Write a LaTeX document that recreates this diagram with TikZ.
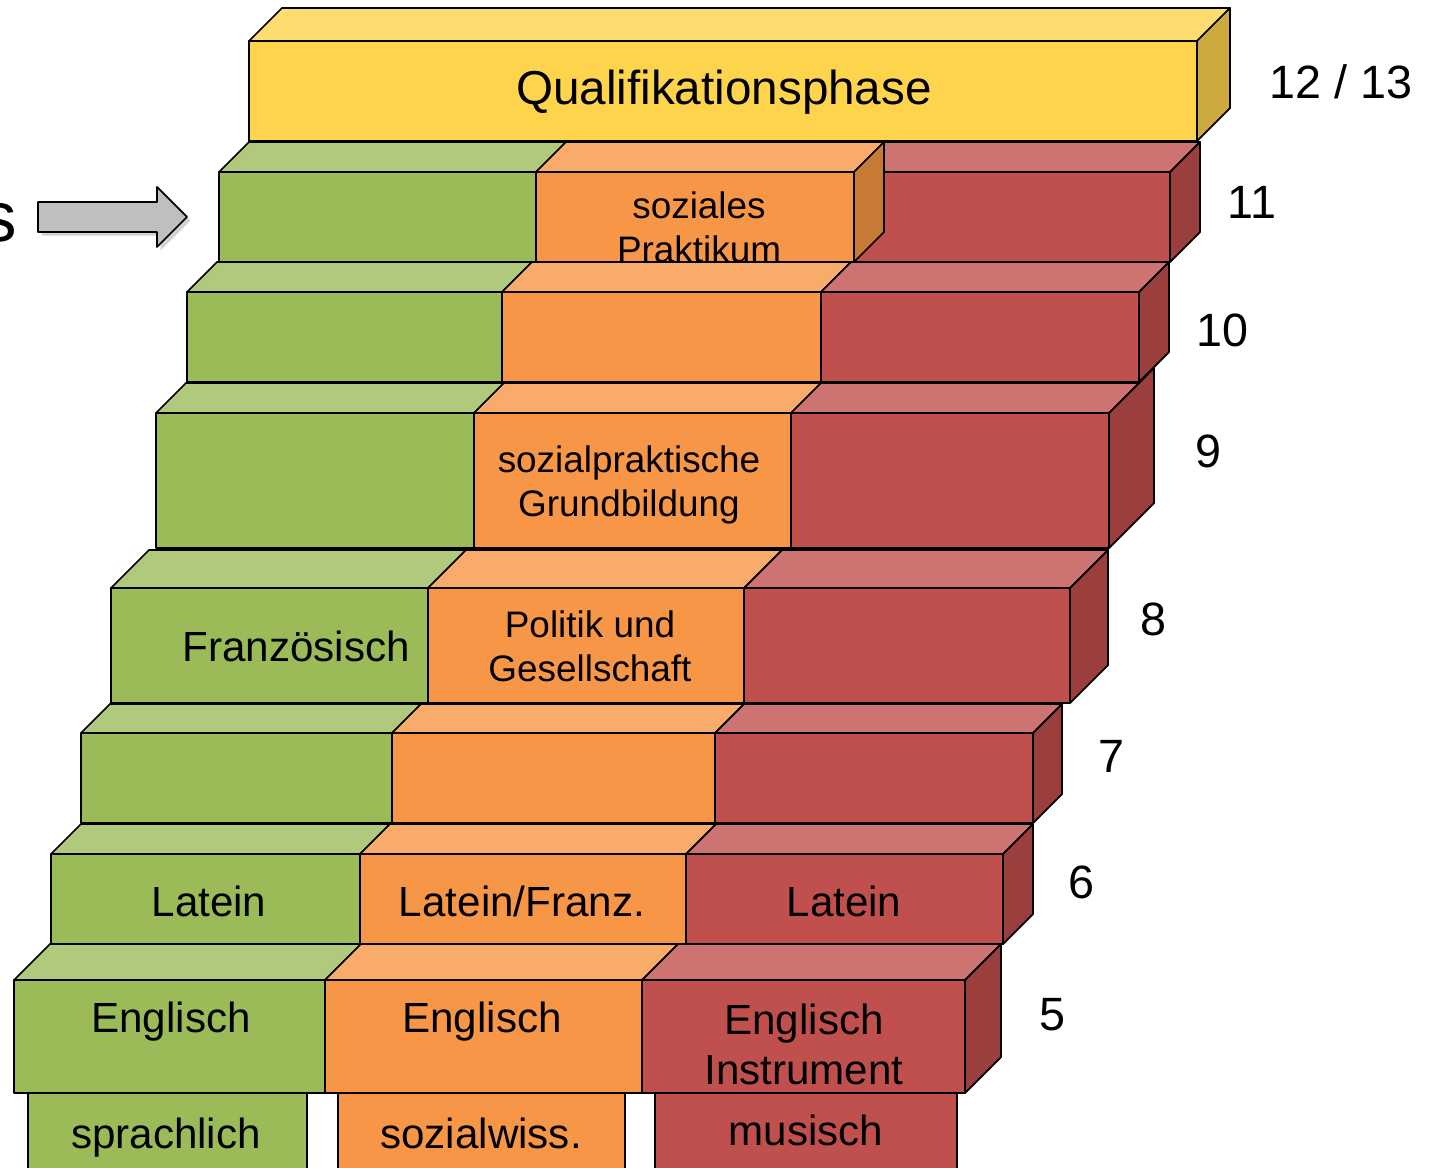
\documentclass[tikz,border=0pt]{standalone}
\usepackage{fontspec}
\setmainfont{Liberation Sans}
\usetikzlibrary{shadows}

\definecolor{gruenvorne}{HTML}{9BBB59}
\definecolor{gruenoben}{HTML}{B0C97C}
\definecolor{orangevorne}{HTML}{F79646}
\definecolor{orangeoben}{HTML}{F9AB6B}
\definecolor{orangeseite}{HTML}{C77A36}
\definecolor{rotvorne}{HTML}{C0504D}
\definecolor{rotoben}{HTML}{CD7371}
\definecolor{rotseite}{HTML}{9A3F3D}
\definecolor{gelbvorne}{HTML}{FFD44D}
\definecolor{gelboben}{HTML}{FFDC6F}
\definecolor{gelbseite}{HTML}{CCAA3E}

\begin{document}
\begin{tikzpicture}[x=0.02cm,y=-0.02cm,
	kante/.style={draw=black,line width=1pt,line join=round},
	gruen/.style={kante,fill=gruenvorne},gruentop/.style={kante,fill=gruenoben},
	orange/.style={kante,fill=orangevorne},orangetop/.style={kante,fill=orangeoben},orangeside/.style={kante,fill=orangeseite},
	rot/.style={kante,fill=rotvorne},rottop/.style={kante,fill=rotoben},rotside/.style={kante,fill=rotseite},
	gelb/.style={kante,fill=gelbvorne},gelbtop/.style={kante,fill=gelboben},gelbside/.style={kante,fill=gelbseite},
	fach/.style={font=\fontsize{24}{28.5}\selectfont,inner sep=0pt,align=center},
	fachklein/.style={font=\fontsize{21}{25}\selectfont,inner sep=0pt,align=center},
	klasse/.style={font=\fontsize{26.6}{32}\selectfont,inner sep=0pt},
	pfeil/.style={kante,fill=black!25,drop shadow={opacity=0.35,shadow xshift=2pt,shadow yshift=-2pt}}]
	\useasboundingbox (0,0) rectangle (1430,1168);

	% 12/13
	\draw[gelbtop]	(249,41) -- (282,8) -- (1230,8) -- (1197,41) -- cycle;
	\draw[gelbside]	(1197,41) -- (1230,8) -- (1230,108) -- (1197,141) -- cycle;
	\draw[gelb]		(249,41) rectangle (1197,141);
	\node[fach,font=\fontsize{27.1}{32}\selectfont,anchor=base]	(quali)	at (724,105)	{Qualifikationsphase};

	% 11
	\draw[gruentop]	(219,172) -- (249,142) -- (566,142) -- (536,172) -- cycle;
	\draw[gruen]	(219,172) rectangle (536,262);
	\draw[rottop]	(854,172) -- (884,142) -- (1200,142) -- (1170,172) -- cycle;
	\draw[rotside]	(1170,172) -- (1200,142) -- (1200,232) -- (1170,262) -- cycle;
	\draw[rot]		(854,172) rectangle (1170,262);
	\draw[orangetop]	(536,172) -- (566,142) -- (884,142) -- (854,172) -- cycle;
	\draw[orangeside]	(854,172) -- (884,142) -- (884,232) -- (854,262) -- cycle;
	\draw[orange]	(536,172) rectangle (854,262);
	\node[fachklein]	(praktikum)	at (699,227)	{soziales\\Praktikum};

	% 10
	\draw[gruentop]	(187,292) -- (217,262) -- (532,262) -- (502,292) -- cycle;
	\draw[gruen]	(187,292) rectangle (502,382);
	\draw[orangetop]	(502,292) -- (532,262) -- (851,262) -- (821,292) -- cycle;
	\draw[orange]	(502,292) rectangle (821,382);
	\draw[rottop]	(821,292) -- (851,262) -- (1169,262) -- (1139,292) -- cycle;
	\draw[rotside]	(1139,292) -- (1169,262) -- (1169,352) -- (1139,382) -- cycle;
	\draw[rot]		(821,292) rectangle (1139,382);

	% 9
	\draw[gruentop]	(156,413) -- (186,383) -- (504,383) -- (474,413) -- cycle;
	\draw[gruen]	(156,413) rectangle (474,548);
	\draw[orangetop]	(474,413) -- (504,383) -- (821,383) -- (791,413) -- cycle;
	\draw[orange]	(474,413) rectangle (791,548);
	\draw[rottop]	(791,413) -- (821,383) -- (1139,383) -- (1109,413) -- cycle;
	\draw[rotside]	(1109,413) -- (1154,368) -- (1154,503) -- (1109,548) -- cycle;
	\draw[rot]		(791,413) rectangle (1109,548);
	\node[fachklein]	(grundbildung)	at (629,485)	{sozialpraktische\\Grundbildung};

	% 8
	\draw[gruentop]	(111,588) -- (149,550) -- (466,550) -- (428,588) -- cycle;
	\draw[gruen]	(111,588) rectangle (428,703);
	\draw[orangetop]	(428,588) -- (466,550) -- (782,550) -- (744,588) -- cycle;
	\draw[orange]	(428,588) rectangle (744,703);
	\draw[rottop]	(744,588) -- (782,550) -- (1108,550) -- (1070,588) -- cycle;
	\draw[rotside]	(1070,588) -- (1108,550) -- (1108,665) -- (1070,703) -- cycle;
	\draw[rot]		(744,588) rectangle (1070,703);
	\node[fach,anchor=base]	(franz)	at (296,662)	{Französisch};
	\node[fachklein]	(politik)	at (590,646)	{Politik und\\Gesellschaft};

	% 7
	\draw[gruentop]	(81,733) -- (110,704) -- (421,704) -- (392,733) -- cycle;
	\draw[gruen]	(81,733) rectangle (392,823);
	\draw[orangetop]	(392,733) -- (421,704) -- (744,704) -- (715,733) -- cycle;
	\draw[orange]	(392,733) rectangle (715,823);
	\draw[rottop]	(715,733) -- (744,704) -- (1062,704) -- (1033,733) -- cycle;
	\draw[rotside]	(1033,733) -- (1062,704) -- (1062,794) -- (1033,823) -- cycle;
	\draw[rot]		(715,733) rectangle (1033,823);

	% 6
	\draw[gruentop]	(51,854) -- (81,824) -- (390,824) -- (360,854) -- cycle;
	\draw[gruen]	(51,854) rectangle (360,944);
	\draw[orangetop]	(360,854) -- (390,824) -- (716,824) -- (686,854) -- cycle;
	\draw[orange]	(360,854) rectangle (686,944);
	\draw[rottop]	(686,854) -- (716,824) -- (1033,824) -- (1003,854) -- cycle;
	\draw[rotside]	(1003,854) -- (1033,824) -- (1033,914) -- (1003,944) -- cycle;
	\draw[rot]		(686,854) rectangle (1003,944);
	\node[fach,anchor=base]	(latein1)	at (209,916)	{Latein};
	\node[fach,anchor=base]	(latein2)	at (522,916)	{Latein/Franz.};
	\node[fach,anchor=base]	(latein3)	at (844,916)	{Latein};

	% 5
	\draw[gruentop]	(14,980) -- (50,944) -- (361,944) -- (325,980) -- cycle;
	\draw[gruen]	(14,980) rectangle (325,1093);
	\draw[orangetop]	(325,980) -- (361,944) -- (678,944) -- (642,980) -- cycle;
	\draw[orange]	(325,980) rectangle (642,1093);
	\draw[rottop]	(642,980) -- (678,944) -- (1001,944) -- (965,980) -- cycle;
	\draw[rotside]	(965,980) -- (1001,944) -- (1001,1057) -- (965,1093) -- cycle;
	\draw[rot]		(642,980) rectangle (965,1093);
	\node[fach,anchor=base]	(englisch1)	at (171,1032)	{Englisch};
	\node[fach,anchor=base]	(englisch2)	at (482,1032)	{Englisch};
	\node[fach]	(instrument)	at (804,1044)	{Englisch\\Instrument};

	% Zweige
	\draw[gruen]	(28,1093) rectangle (307,1200);
	\draw[orange]	(338,1093) rectangle (625,1200);
	\draw[rot]		(655,1093) rectangle (957,1200);
	\node[fach,anchor=base]	(sprachlich)	at (166,1148)	{sprachlich};
	\node[fach,anchor=base]	(sozialwiss)	at (481,1148)	{sozialwiss.};
	\node[fach,anchor=base]	(musisch)	at (806,1145)	{musisch};

	% Klassen
	\node[klasse,anchor=base]	(k12)	at (1341,99)	{12 / 13};
	\node[klasse,anchor=base]	(k11)	at (1252,219)	{11};
	\node[klasse,anchor=base]	(k10)	at (1222,347)	{10};
	\node[klasse,anchor=base]	(k9)	at (1208,468)	{9};
	\node[klasse,anchor=base]	(k8)	at (1153,636)	{8};
	\node[klasse,anchor=base]	(k7)	at (1111,772)	{7};
	\node[klasse,anchor=base]	(k6)	at (1081,898)	{6};
	\node[klasse,anchor=base]	(k5)	at (1052,1030)	{5};

	% Pfeil
	\node[font=\fontsize{40.4}{48}\selectfont,inner sep=0pt,anchor=base east]	(s)	at (17,242)	{s};
	\draw[pfeil]	(38,202) -- (157,202) -- (157,187) -- (187,217) -- (157,247) -- (157,232) -- (38,232) -- cycle;
\end{tikzpicture}
\end{document}
